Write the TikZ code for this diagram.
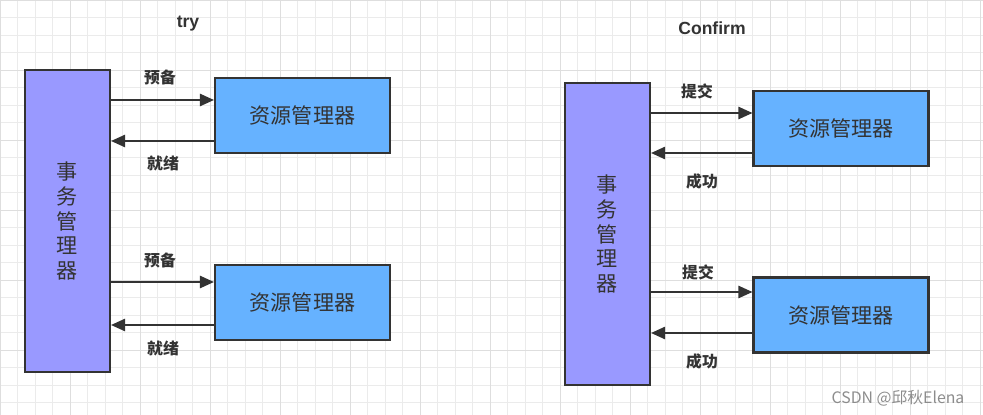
\documentclass[tikz,border=0pt]{standalone}
\usepackage{fontspec}
\setmainfont{Liberation Sans}
\newfontfamily\cjk{Noto Sans CJK SC}
\usetikzlibrary{arrows.meta}
\definecolor{tm}{HTML}{9999FF}
\definecolor{rm}{HTML}{66B2FF}
\definecolor{ink}{HTML}{333333}
\begin{document}
\begin{tikzpicture}[x=0.02cm,y=-0.02cm,
  tall/.style={draw=ink,line width=1.2pt,fill=tm,minimum width=1.7cm,align=center,font=\cjk\large,text=ink},
  res/.style={draw=ink,line width=1.2pt,fill=rm,minimum width=3.5cm,minimum height=1.5cm,font=\cjk\large,text=ink},
  arr/.style={draw=ink,line width=1pt,-{Triangle[length=8pt,width=7pt]}},
  lab/.style={font=\cjk\bfseries\small,text=ink},
  ttl/.style={font=\bfseries,text=ink}]
\useasboundingbox (0,0) rectangle (983,415);
\foreach \x in {0,17.5,...,983} \draw[black!8,line width=0.4pt] (\x,0) -- (\x,415);
\foreach \y in {0,17.5,...,415} \draw[black!8,line width=0.4pt] (0,\y) -- (983,\y);
\foreach \x in {0,70,...,983} \draw[black!13,line width=0.5pt] (\x,0) -- (\x,415);
\foreach \y in {0,70,...,415} \draw[black!13,line width=0.5pt] (0,\y) -- (983,\y);
% left
\node[ttl] (t1) at (188,24) {try};
\node[tall,minimum height=6.04cm] (tmL) at (67.5,221) {事\\务\\管\\理\\器};
\node[res] (r1) at (302.5,115.5) {资源管理器};
\node[res] (r2) at (302.5,302.5) {资源管理器};
\coordinate (a1) at (110,100); \coordinate (b1) at (215,141);
\coordinate (a2) at (110,282); \coordinate (b2) at (215,325);
\draw[arr] (a1) -- (a1 -| r1.west);
\draw[arr] (b1) -- (b1 -| tmL.east);
\draw[arr] (a2) -- (a2 -| r2.west);
\draw[arr] (b2) -- (b2 -| tmL.east);
\node[lab] (l1) at (160,78) {预备};
\node[lab] (l2) at (163,163) {就绪};
\node[lab] (l3) at (160,260) {预备};
\node[lab] (l4) at (163,348) {就绪};
% right
\node[ttl] (t2) at (712,28) {Confirm};
\node[tall,minimum height=6.04cm] (tmR) at (607.5,234) {事\\务\\管\\理\\器};
\node[res] (r3) at (841,128.5) {资源管理器};
\node[res] (r4) at (841,315) {资源管理器};
\coordinate (a3) at (650,113); \coordinate (b3) at (752,153);
\coordinate (a4) at (650,292); \coordinate (b4) at (752,333);
\draw[arr] (a3) -- (a3 -| r3.west);
\draw[arr] (b3) -- (b3 -| tmR.east);
\draw[arr] (a4) -- (a4 -| r4.west);
\draw[arr] (b4) -- (b4 -| tmR.east);
\node[lab] (l5) at (697,91) {提交};
\node[lab] (l6) at (702,181) {成功};
\node[lab] (l7) at (698,272) {提交};
\node[lab] (l8) at (702,361) {成功};
\node[font=\cjk\small,text=black!45] (wm) at (898,398) {CSDN @邱秋Elena};
\end{tikzpicture}
\end{document}
